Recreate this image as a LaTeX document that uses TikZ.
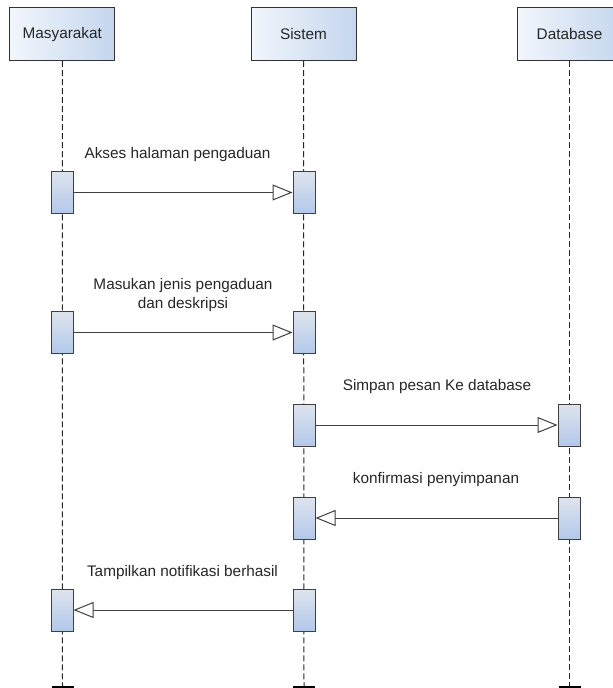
\documentclass[tikz,border=0pt]{standalone}
\usepackage{xcolor}
\usepackage{fontspec}
\setmainfont{Liberation Sans}
\usepackage{tikz}
\usetikzlibrary{arrows.meta}

\definecolor{hdlight}{RGB}{242,246,252}
\definecolor{hddark}{RGB}{196,214,238}
\definecolor{actlight}{RGB}{222,228,238}
\definecolor{actdark}{RGB}{178,200,234}

\begin{document}
\begin{tikzpicture}[x=0.75pt,y=0.75pt,yscale=-1,xscale=1,
  headbox/.style={draw=black!80, line width=0.75pt, left color=hdlight, right color=hddark, minimum width=78.75pt, minimum height=39.75pt, inner sep=0pt, text=black!85, font=\fontsize{11.5}{14}\selectfont},
  actbox/.style={draw=black!75, line width=0.75pt, top color=actlight, bottom color=actdark, minimum width=16.5pt, minimum height=31.5pt, inner sep=0pt},
  lifeline/.style={draw=black!85, line width=0.75pt, dash pattern=on 4.5pt off 2.25pt},
  endbar/.style={draw=black, line width=2.25pt},
  msg/.style={draw=black!75, line width=0.75pt, -{Triangle[open, length=15pt, width=12pt, fill=white]}},
  lbl/.style={inner sep=0.75pt, align=center, text=black!85, font=\fontsize{11.5}{14}\selectfont}]
\clip (0,0) rectangle (613,688); %diagram size 613 x 688

%Lifeline heads
\node [headbox] (masy) at (62.25,34.25) {Masyarakat};
\node [headbox] (sis) at (303.5,34.25) {Sistem};
\node [headbox] (db) at (569.5,34.25) {Database};

%Lifeline ends
\coordinate (masyend) at (62.5,687);
\coordinate (sisend) at (304,687);
\coordinate (dbend) at (569.5,687);

%Dashed lifelines
\draw [lifeline] (masy.south) -- (masyend);
\draw [lifeline] (sis.south) -- (sisend);
\draw [lifeline] (db.south) -- (dbend);
\draw [endbar] ([xshift=-8.25pt]masyend) -- ([xshift=8.25pt]masyend);
\draw [endbar] ([xshift=-8.25pt]sisend) -- ([xshift=8.25pt]sisend);
\draw [endbar] ([xshift=-8.25pt]dbend) -- ([xshift=8.25pt]dbend);

%Activation boxes
\node [actbox] (actmasya) at (62,192.5) {};
\node [actbox] (actsisa) at (304,192.5) {};
\node [actbox] (actmasyb) at (62,332.5) {};
\node [actbox] (actsisb) at (304,332.5) {};
\node [actbox] (actsisc) at (304,425) {};
\node [actbox] (actdbc) at (569,425) {};
\node [actbox] (actsisd) at (304,518) {};
\node [actbox] (actdbd) at (569,518) {};
\node [actbox] (actmasye) at (62,610) {};
\node [actbox] (actsise) at (304,610) {};

%Messages
\draw [msg] (actmasya.east) -- (actsisa.west);
\draw [msg] (actmasyb.east) -- (actsisb.west);
\draw [msg] (actsisc.east) -- (actdbc.west);
\draw [msg] (actdbd.west) -- (actsisd.east);
\draw [msg] (actsise.west) -- (actmasye.east);

% Text Node
\node [lbl] (txta) at (177.5,155) {Akses halaman pengaduan};
% Text Node
\node [lbl] (txtb) at (183,295) {Masukan jenis pengaduan\\dan deskripsi};
% Text Node
\node [lbl] (txtc) at (437,387) {Simpan pesan Ke database};
% Text Node
\node [lbl] (txtd) at (436,480) {konfirmasi penyimpanan};
% Text Node
\node [lbl] (txte) at (182.5,573) {Tampilkan notifikasi berhasil};

\end{tikzpicture}
\end{document}
